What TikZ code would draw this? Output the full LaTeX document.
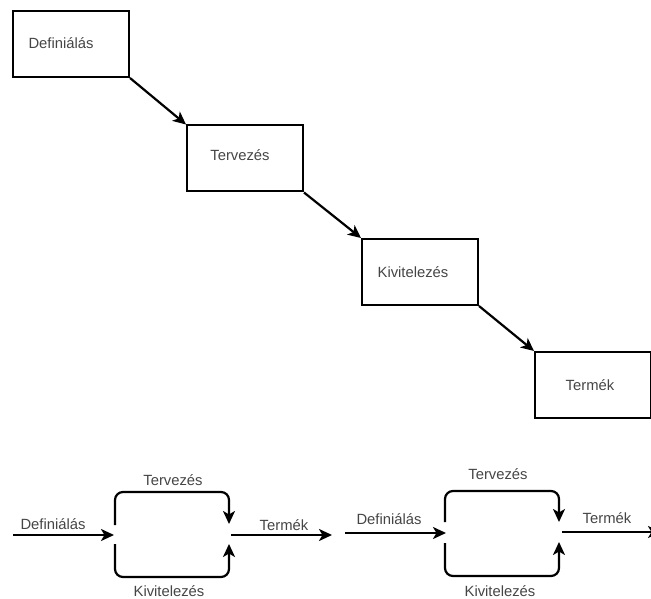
\documentclass[tikz,border=0pt]{standalone}
\usepackage{fontspec}
\setmainfont{Liberation Sans}
\usetikzlibrary{arrows.meta}
\definecolor{txt}{HTML}{454545}
\tikzset{
  box/.style={draw=black, line width=2pt, minimum width=116pt, minimum height=66pt, inner sep=0pt},
  lbl/.style={text=txt, font=\fontsize{14.8}{17}\selectfont, inner sep=0pt, anchor=center},
  arr/.style={draw=black, line width=2.2pt, -{Stealth[length=13pt,width=12pt,inset=3.5pt]}},
}
\begin{document}
\begin{tikzpicture}[x=1pt,y=-1pt]
\useasboundingbox (0,0) rectangle (651,599);
% top waterfall
\node[box] (b1) at (71,44) {};
\node[box] (b2) at (245,158.5) {};
\node[box] (b3) at (420,272) {};
\node[box] (b4) at (593,385) {};
\node[lbl] (t1) at (61,43) {Definiálás};
\node[lbl] (t2) at (240,155) {Tervezés};
\node[lbl] (t3) at (413,272) {Kivitelezés};
\node[lbl] (t4) at (590,385) {Termék};
\draw[arr] (b1.south east) -- (b2.north west);
\draw[arr] (b2.south east) -- (b3.north west);
\draw[arr] (b3.south east) -- (b4.north west);
% bottom left
\coordinate (d1s) at (13,535);
\coordinate (d1e) at (114,535);
\coordinate (u1s) at (115,525);
\coordinate (u1a) at (115,492);
\coordinate (u1b) at (229,492);
\coordinate (u1e) at (229,524);
\coordinate (l1s) at (115,544);
\coordinate (l1a) at (115,577);
\coordinate (l1b) at (229,577);
\coordinate (l1e) at (229,544);
\coordinate (p1s) at (231,535);
\coordinate (p1e) at (332,535);
\node[lbl] (dl1) at (53,524) {Definiálás};
\node[lbl] (tl1) at (173,480) {Tervezés};
\node[lbl] (kl1) at (169,591) {Kivitelezés};
\node[lbl] (pl1) at (284,525) {Termék};
\draw[arr] (d1s) -- (d1e);
\draw[arr, rounded corners=8pt] (u1s) -- (u1a) -- (u1b) -- (u1e);
\draw[arr, rounded corners=8pt] (l1s) -- (l1a) -- (l1b) -- (l1e);
\draw[arr] (p1s) -- (p1e);
% bottom right
\coordinate (d2s) at (345,533);
\coordinate (d2e) at (446,533);
\coordinate (u2s) at (445,522);
\coordinate (u2a) at (445,491);
\coordinate (u2b) at (559,491);
\coordinate (u2e) at (559,522);
\coordinate (l2s) at (445,543);
\coordinate (l2a) at (445,576);
\coordinate (l2b) at (559,576);
\coordinate (l2e) at (559,542);
\coordinate (p2s) at (562,532);
\coordinate (p2e) at (661,532);
\node[lbl] (dl2) at (389,519) {Definiálás};
\node[lbl] (tl2) at (498,474) {Tervezés};
\node[lbl] (kl2) at (500,591) {Kivitelezés};
\node[lbl] (pl2) at (607,518) {Termék};
\draw[arr] (d2s) -- (d2e);
\draw[arr, rounded corners=8pt] (u2s) -- (u2a) -- (u2b) -- (u2e);
\draw[arr, rounded corners=8pt] (l2s) -- (l2a) -- (l2b) -- (l2e);
\draw[arr] (p2s) -- (p2e);
\end{tikzpicture}
\end{document}
